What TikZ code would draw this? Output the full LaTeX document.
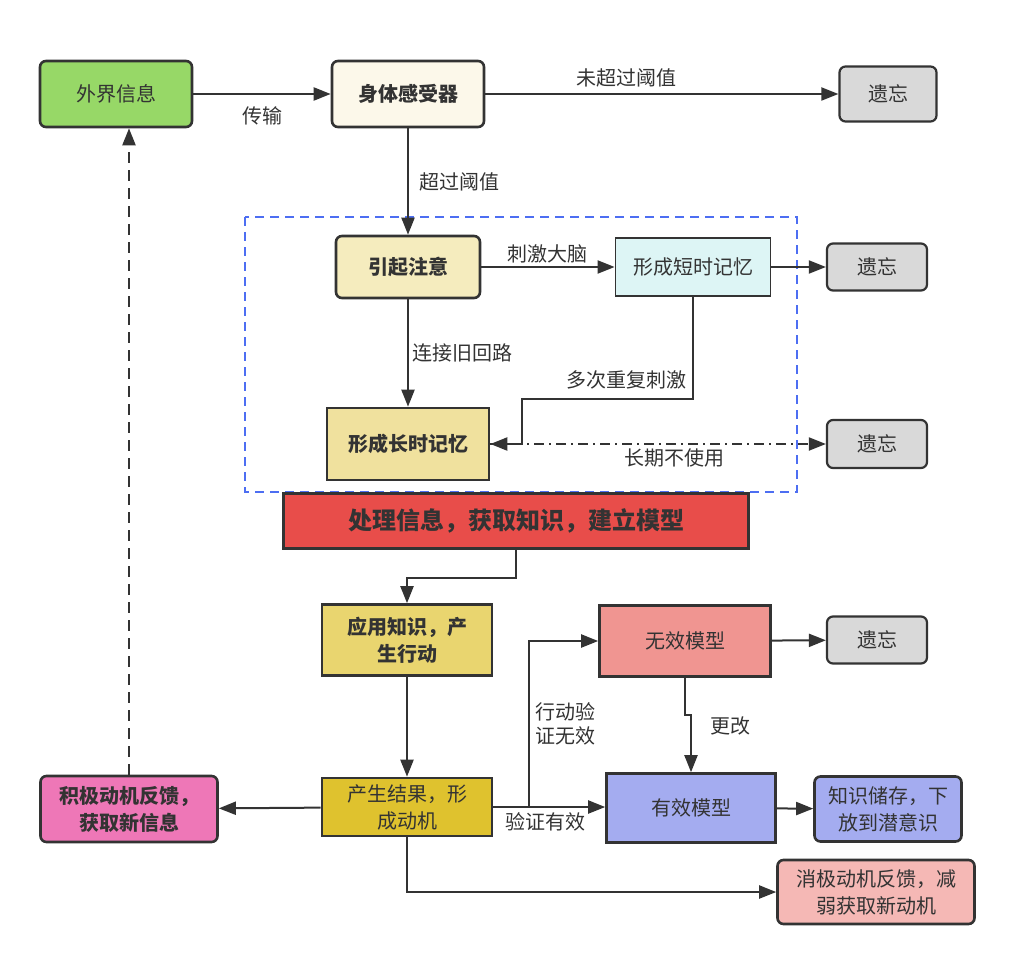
\documentclass[tikz,border=0pt]{standalone}
\usepackage{fontspec}
\setmainfont{Noto Sans CJK SC}
\usepackage{tikz}
\usetikzlibrary{arrows.meta}
\definecolor{ink}{HTML}{333333}
\definecolor{greenbox}{HTML}{97D867}
\definecolor{creambox}{HTML}{FCF8EA}
\definecolor{greybox}{HTML}{D9D9D9}
\definecolor{attnbox}{HTML}{F5ECBE}
\definecolor{cyanbox}{HTML}{DDF5F5}
\definecolor{ltmbox}{HTML}{F0E19E}
\definecolor{redbox}{HTML}{E84D4A}
\definecolor{applybox}{HTML}{E9D56F}
\definecolor{resultbox}{HTML}{DFC22E}
\definecolor{pinkbox}{HTML}{EE77B7}
\definecolor{salmonbox}{HTML}{F09591}
\definecolor{bluebox}{HTML}{A4ACF0}
\definecolor{rosebox}{HTML}{F5B8B5}
\definecolor{dashblue}{HTML}{4D6EF2}
\tikzset{box/.style={draw=ink, line width=2.6pt, text=ink, align=center, inner sep=0pt,
		font=\fontsize{20}{27}\selectfont},
	rbox/.style={box, rounded corners=6pt},
	bbox/.style={box, font=\fontsize{20}{27}\selectfont\bfseries},
	lab/.style={text=ink, inner sep=2pt, font=\fontsize{20}{24}\selectfont},
	edge/.style={draw=ink, line width=2pt, -{Triangle[length=17pt,width=13pt]}}}

\begin{document}
\begin{tikzpicture}[x=1pt, y=-1pt]
	\useasboundingbox (0,0) rectangle (1016,968);
	% dashed frame round the memory part
	\draw[dashblue, line width=1.6pt, dash pattern=on 9pt off 6pt] (245,217) rectangle (797,492);

	\node[rbox, fill=greenbox, minimum width=152pt, minimum height=66pt] (world) at (116,94) {外界信息};
	\node[rbox, fill=creambox, minimum width=152pt, minimum height=66pt, font=\fontsize{20}{27}\selectfont\bfseries] (sensor) at (408,94) {身体感受器};
	\node[rbox, fill=greybox, line width=2.2pt, minimum width=97pt, minimum height=55pt] (forgetA) at (888,94) {遗忘};

	\node[rbox, fill=attnbox, minimum width=144pt, minimum height=62pt, font=\fontsize{20}{27}\selectfont\bfseries] (attn) at (408,267) {引起注意};
	\node[box, fill=cyanbox, line width=1.8pt, minimum width=155pt, minimum height=58pt] (stm) at (693,267) {形成短时记忆};
	\node[rbox, fill=greybox, line width=2.2pt, minimum width=100pt, minimum height=47pt] (forgetB) at (877,267) {遗忘};
	\node[bbox, fill=ltmbox, minimum width=162pt, minimum height=72pt] (ltm) at (408,444) {形成长时记忆};
	\node[rbox, fill=greybox, line width=2.2pt, minimum width=100pt, minimum height=48pt] (forgetC) at (877,444) {遗忘};

	\node[bbox, fill=redbox, minimum width=465pt, minimum height=55pt, font=\fontsize{24}{28}\selectfont\bfseries] (proc) at (516,521) {处理信息，获取知识，建立模型};
	\node[bbox, fill=applybox, minimum width=170pt, minimum height=71pt] (apply) at (407,640) {应用知识，产\\生行动};
	\node[box, fill=resultbox, minimum width=170pt, minimum height=58pt] (result) at (407,807) {产生结果，形\\成动机};
	\node[rbox, fill=pinkbox, minimum width=177pt, minimum height=66pt, font=\fontsize{20}{27}\selectfont\bfseries] (posfb) at (129,809) {积极动机反馈，\\获取新信息};

	\node[box, fill=salmonbox, minimum width=171pt, minimum height=71pt] (bad) at (685,641) {无效模型};
	\node[rbox, fill=greybox, line width=2.2pt, minimum width=100pt, minimum height=47pt] (forgetD) at (877,640) {遗忘};
	\node[box, fill=bluebox, minimum width=169pt, minimum height=69pt] (good) at (691,808) {有效模型};
	\node[rbox, fill=bluebox, minimum width=147pt, minimum height=65pt] (store) at (888,809) {知识储存，下\\放到潜意识};
	\node[rbox, fill=rosebox, minimum width=197pt, minimum height=64pt] (negfb) at (876,892) {消极动机反馈，减\\弱获取新动机};

	\coordinate (repeat) at (522,399);
	\coordinate (check) at (529,807);

	\draw[edge] (world) -- (sensor) node[lab, midway, below=10pt]{传输};
	\draw[edge] (sensor) -- (forgetA) node[lab, pos=0.40, above=4pt]{未超过阈值};
	\draw[edge] (sensor) -- (attn) node[lab, midway, right=8pt]{超过阈值};
	\draw[edge] (attn) -- (stm) node[lab, midway, above=1pt]{刺激大脑};
	\draw[edge] (stm) -- (forgetB);
	\draw[edge] (attn) -- (ltm) node[lab, midway, right=1pt]{连接旧回路};
	\draw[edge] (stm.south) |- node[lab, pos=0.5, anchor=south east, xshift=-4pt, yshift=7pt]{多次重复刺激} (repeat) |- (ltm.east);
	\draw[edge, dash pattern=on 10pt off 5pt on 2pt off 5pt] (ltm.east) -- (forgetC) node[lab, pos=0.55, below=2pt]{长期不使用};

	\draw[edge] (proc.south) -- ++(0,28) -| (apply.north);
	\draw[edge] (apply) -- (result);
	\draw[edge] (result) -- (posfb);
	\draw[edge, dash pattern=on 11pt off 7pt] (posfb.north) -- (posfb.north |- world.south);
	\draw[edge] (result.east) -- (result.east -| good.west) node[lab, pos=0.47, below=3pt]{验证有效};
	\draw[edge] (check) |- node[lab, pos=0.25, right=3pt, align=left]{行动验\\证无效} (bad.west);
	\draw[edge] (bad.south) -- ++(0,37) -| node[lab, pos=0.6, right=16pt]{更改} (good.north);
	\draw[edge] (bad) -- (forgetD);
	\draw[edge] (good) -- (store);
	\draw[edge] (result.south) |- (negfb.west);
\end{tikzpicture}
\end{document}
